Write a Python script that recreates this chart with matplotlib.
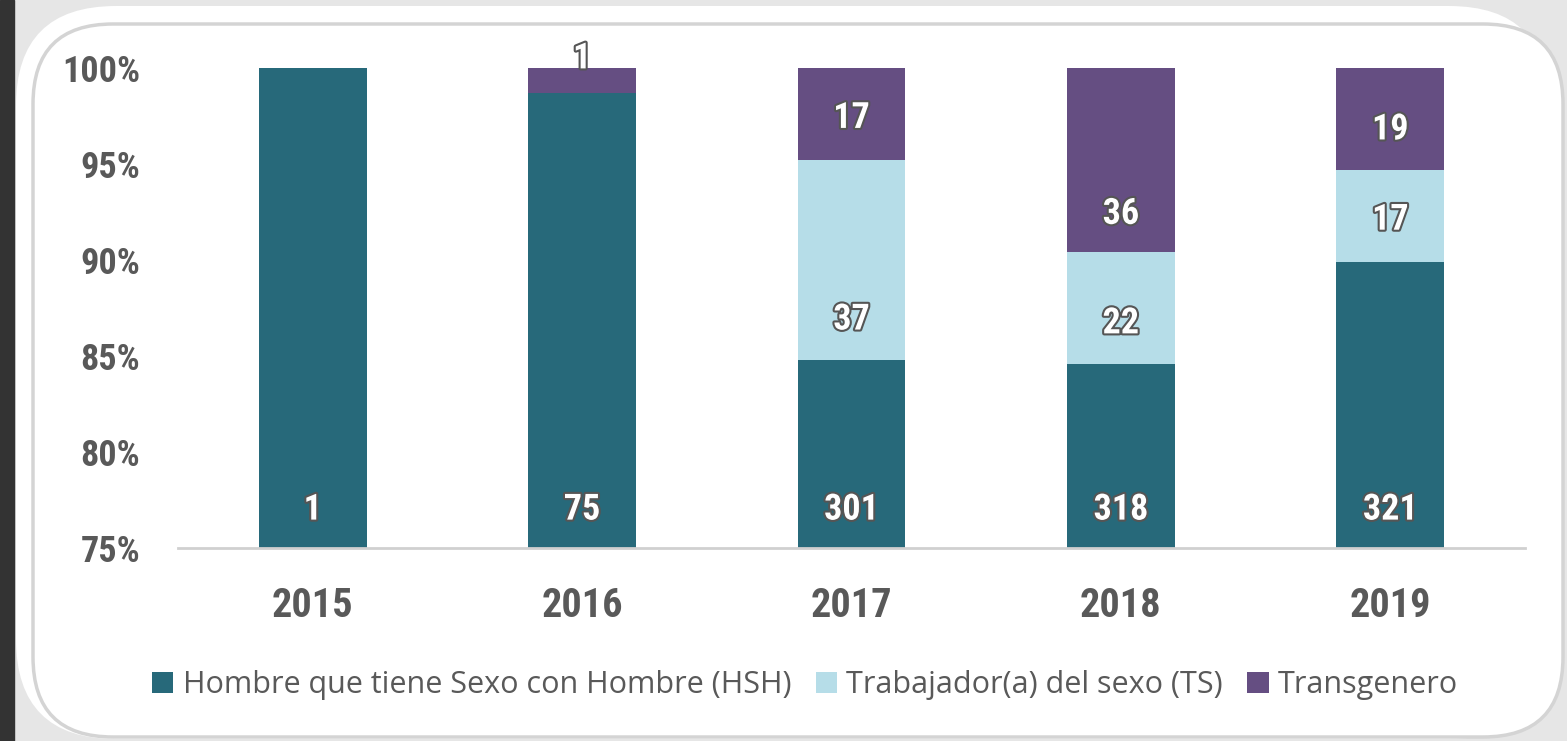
import matplotlib
matplotlib.use("Agg")
import matplotlib.pyplot as plt
from matplotlib.patches import Patch, Rectangle, FancyBboxPatch
import matplotlib.patheffects as pe
import numpy as np

years = ["2015", "2016", "2017", "2018", "2019"]
series_names = ["Hombre que tiene Sexo con Hombre (HSH)", "Trabajador(a) del sexo (TS)", "Transgenero"]
hsh = [1, 75, 301, 318, 321]
ts = [0, 0, 37, 22, 17]
trans = [0, 1, 17, 36, 19]
colors = ["#27697A", "#B6DDE8", "#654E82"]

# label positions (percent) as placed in the reference
hsh_label_pos = [77.0, 77.0, 77.0, 77.0, 77.0]
ts_label_pos = [None, None, 86.9, 86.7, 92.1]
trans_label_pos = [None, 100.5, 97.4, 92.4, 96.8]

COND = ["Roboto Condensed", "Liberation Sans Narrow", "DejaVu Sans"]

W, H = 1567, 741
fig = plt.figure(figsize=(W / 100, H / 100), dpi=100)
fig.patch.set_facecolor("white")

# decorative frame
fig.add_artist(Rectangle((0, 0), 1, 1, transform=fig.transFigure, color="#e6e6e6", zorder=-10))
fig.add_artist(Rectangle((0, 0), 14 / W, 1, transform=fig.transFigure, color="#333333", zorder=-9))
card = FancyBboxPatch((16, 2), W - 18 - 16, H - 8, boxstyle="round,pad=0,rounding_size=100",
                      transform=None, facecolor="white", edgecolor="none", zorder=-8)
fig.add_artist(card)
inner = FancyBboxPatch((33, 4), W - 4 - 33, H - 4 - 24, boxstyle="round,pad=0,rounding_size=80",
                       transform=None, facecolor="white", edgecolor="#d4d4d4", linewidth=2.5, zorder=-7)
fig.add_artist(inner)

ax = fig.add_axes([178 / W, 1 - 548 / H, (1525 - 178) / W, (548 - 68) / H])
ax.set_facecolor("none")

totals = np.array(hsh) + np.array(ts) + np.array(trans)
p_hsh = np.array(hsh) / totals * 100
p_ts = np.array(ts) / totals * 100
p_trans = np.array(trans) / totals * 100
x = np.arange(len(years))
bw = 0.4
ax.bar(x, p_hsh, bw, color=colors[0], zorder=2)
ax.bar(x, p_ts, bw, bottom=p_hsh, color=colors[1], zorder=2)
ax.bar(x, p_trans, bw, bottom=p_hsh + p_ts, color=colors[2], zorder=2)

ax.set_xlim(-0.5, len(years) - 0.5)
ax.set_ylim(75, 100)
ax.set_yticks([75, 80, 85, 90, 95, 100])
ax.set_yticklabels([f"{v}%" for v in [75, 80, 85, 90, 95, 100]])
ax.set_xticks(x)
ax.set_xticklabels(years)
for s in ["top", "right", "left"]:
    ax.spines[s].set_visible(False)
ax.spines["bottom"].set_color("#d0d0d0")
ax.spines["bottom"].set_linewidth(2)
ax.tick_params(axis="both", length=0)
ax.tick_params(axis="y", pad=27)
ax.tick_params(axis="x", pad=28)
for lab in ax.get_yticklabels():
    lab.set_fontfamily(COND)
    lab.set_fontsize(26)
    lab.set_color("#595959")
    lab.set_fontweight("bold")
for lab in ax.get_xticklabels():
    lab.set_fontfamily(COND)
    lab.set_fontsize(29)
    lab.set_color("#595959")
    lab.set_fontweight("bold")

effects = [pe.withStroke(linewidth=3, foreground="#555555")]
def put(xi, yv, val):
    ax.text(xi, yv, str(val), ha="center", va="center", fontsize=26, color="white",
            family=COND, fontweight="bold", path_effects=effects, zorder=5, clip_on=False)

for i in range(len(years)):
    if hsh[i]:
        put(x[i], hsh_label_pos[i], hsh[i])
    if ts[i] and ts_label_pos[i] is not None:
        put(x[i], ts_label_pos[i], ts[i])
    if trans[i] and trans_label_pos[i] is not None:
        put(x[i], trans_label_pos[i], trans[i])

handles = [Patch(facecolor=c) for c in colors]
leg = fig.legend(handles, series_names, loc="center", bbox_to_anchor=(805 / W, 1 - 685 / H),
                 ncol=3, frameon=False, handlelength=0.7, handleheight=0.7,
                 handletextpad=0.3, columnspacing=0.8, prop={"family": "Open Sans", "size": 22})
for t in leg.get_texts():
    t.set_color("#595959")

fig.savefig("out.png", dpi=100)
